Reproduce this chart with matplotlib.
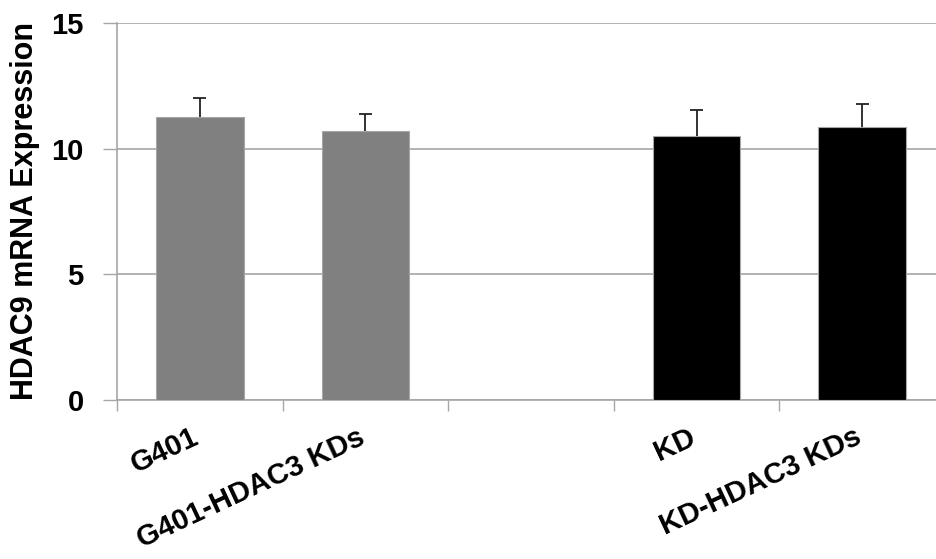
import numpy as np
import matplotlib.pyplot as plt

plt.rcParams['font.family'] = ['Liberation Sans', 'DejaVu Sans']

# chart data
labels = ["G401", "G401-HDAC3 KDs", "", "KD", "KD-HDAC3 KDs"]
values = [11.25, 10.72, np.nan, 10.52, 10.88]
errors = [0.78, 0.67, 0, 1.02, 0.89]
colors = ["#808080", "#808080", "#808080", "#000000", "#000000"]

fig = plt.figure(figsize=(9.36, 5.59), dpi=100)
ax = fig.add_axes([117 / 936, 159 / 559, 828 / 936, 377 / 559])

x = np.arange(len(labels))
ax.bar(x, values, width=0.53, color=colors, edgecolor="#a6a6a6", linewidth=0.8, zorder=3)

# upper error bars only (Excel style, "plus" direction)
vals = np.array(values)
errs = np.array(errors)
ok = ~np.isnan(vals)
ax.vlines(x[ok], vals[ok], vals[ok] + errs[ok], color="#222222", linewidth=1.3, zorder=4)
ax.hlines(vals[ok] + errs[ok], x[ok] - 0.04, x[ok] + 0.04, color="#222222", linewidth=1.3, zorder=4)

ax.set_xlim(-0.5, len(labels) - 0.5)
ax.set_ylim(0, 15)
ax.set_yticks([0, 5, 10, 15])
ax.yaxis.grid(True, color="#a6a6a6", linewidth=1.2, zorder=0)

ax.set_xticks(np.arange(len(labels) + 1) - 0.5)
ax.set_xticklabels([])
ax.tick_params(axis="x", direction="out", length=8, color="#a6a6a6", width=1)
ax.tick_params(axis="y", direction="out", length=10, color="#a6a6a6", width=1,
               labelsize=21, pad=14)
for lab in ax.get_yticklabels():
    lab.set_fontweight("bold")

for xi, lab in zip(x, labels):
    if lab:
        ax.text(xi - 0.05, -0.92, lab, rotation=25, ha="right", va="top",
                rotation_mode="anchor", fontsize=21, fontweight="bold",
                transform=ax.transData, clip_on=False)

for s in ["top", "right"]:
    ax.spines[s].set_visible(False)
for s in ["left", "bottom"]:
    ax.spines[s].set_color("#a6a6a6")
    ax.spines[s].set_linewidth(1.2)

ax.set_ylabel("HDAC9 mRNA Expression", fontsize=22, fontweight="bold", labelpad=8)

fig.savefig("out.png", dpi=100)
